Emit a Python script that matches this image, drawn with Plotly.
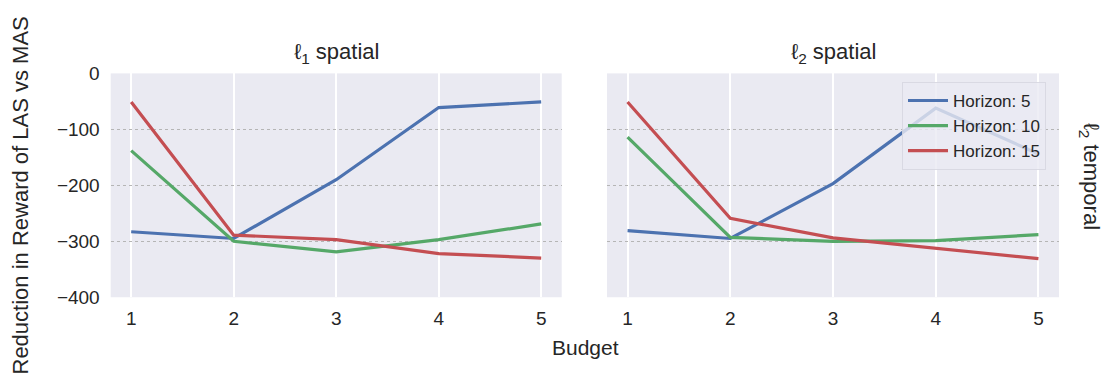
import plotly.graph_objects as go

budget = [1, 2, 3, 4, 5]

# l1 spatial panel
l1_h5 = [-283, -295, -190, -61, -51]
l1_h10 = [-138, -300, -319, -297, -269]
l1_h15 = [-51, -289, -297, -322, -330]

# l2 spatial panel
l2_h5 = [-281, -295, -197, -62, -144]
l2_h10 = [-114, -293, -300, -299, -288]
l2_h15 = [-51, -259, -294, -313, -331]

series_names = ["Horizon: 5", "Horizon: 10", "Horizon: 15"]
colors = ["#4C72B0", "#55A868", "#C44E52"]
y_ticks = [0, -100, -200, -300, -400]

W, H = 1116, 392
txt = "#262626"
font_family = "Liberation Sans, Arial, sans-serif"

fig = go.Figure()

panels = [(l1_h5, l1_h10, l1_h15), (l2_h5, l2_h10, l2_h15)]
for p, data in enumerate(panels):
    xa = "x" if p == 0 else "x2"
    ya = "y" if p == 0 else "y2"
    for name, vals, col in zip(series_names, data, colors):
        fig.add_trace(go.Scatter(
            x=budget, y=vals, mode="lines", name=name,
            line=dict(color=col, width=3.2),
            xaxis=xa, yaxis=ya, showlegend=(p == 1),
        ))

xax = dict(range=[0.8, 5.2], tickvals=budget, showgrid=True, gridcolor="white",
           gridwidth=1.6, zeroline=False, showline=False, ticks="",
           tickfont=dict(size=19, color=txt), ticklabelstandoff=8)
yax = dict(range=[-400, 0], tickvals=y_ticks, showgrid=True, gridcolor="#b5b5b5",
           gridwidth=0.8, griddash="dot", zeroline=False, showline=False, ticks="",
           tickfont=dict(size=19, color=txt), ticklabelstandoff=10)

fig.update_layout(
    width=W, height=H,
    margin=dict(l=0, r=0, t=0, b=0),
    paper_bgcolor="white",
    plot_bgcolor="#EAEAF2",
    font=dict(family=font_family, color=txt),
    xaxis=dict(xax, domain=[110.7 / W, 561.7 / W], anchor="y"),
    yaxis=dict(yax, domain=[1 - 303.5 / H, 1 - 67 / H], anchor="x"),
    xaxis2=dict(xax, domain=[607 / W, 1059 / W], anchor="y2"),
    yaxis2=dict(yax, domain=[1 - 303.5 / H, 1 - 67 / H], anchor="x2",
                showticklabels=False, matches="y"),
    legend=dict(
        x=902 / W, y=1 - 76 / H, xanchor="left", yanchor="top",
        bgcolor="rgba(234,234,242,0.8)", bordercolor="rgba(215,215,225,0.9)",
        borderwidth=1, font=dict(size=17, color=txt),
        itemwidth=40,
    ),
)

annotations = [
    dict(text="ℓ<sub>1</sub> spatial", x=(110.7 + 561.7) / 2 / W, y=1 - 45 / H,
         font=dict(size=22)),
    dict(text="ℓ<sub>2</sub> spatial", x=(607 + 1059) / 2 / W, y=1 - 45 / H,
         font=dict(size=22)),
    dict(text="Budget", x=585 / W, y=1 - 357 / H, font=dict(size=21)),
    dict(text="Reduction in Reward of LAS vs MAS", x=20 / W, y=0.5,
         textangle=-90, font=dict(size=22)),
    dict(text="ℓ<sub>2</sub> temporal", x=1090 / W, y=1 - 175 / H,
         textangle=90, font=dict(size=22)),
]
for a in annotations:
    fig.add_annotation(xref="paper", yref="paper", showarrow=False,
                       xanchor="center", yanchor="middle", **a)

fig.write_html("out.html", config={"displayModeBar": False},
               post_script="document.body.style.margin='0px';")
